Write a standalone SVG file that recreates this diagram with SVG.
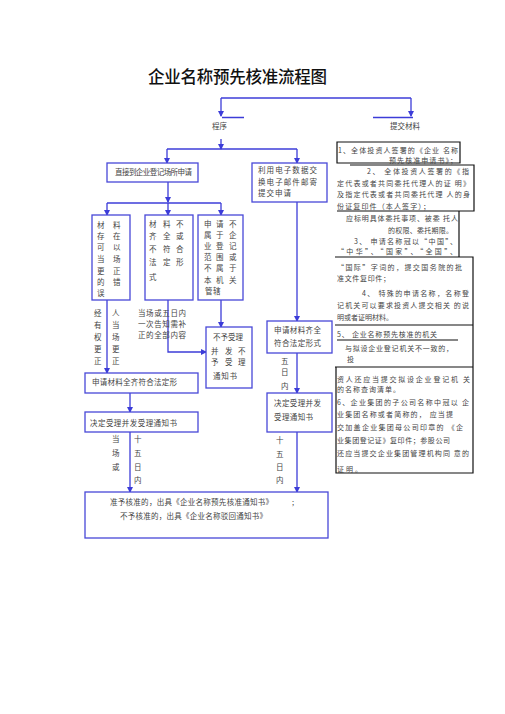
<svg xmlns="http://www.w3.org/2000/svg" width="505" height="714" viewBox="0 0 505 714">
<defs>
<style>
.t{font-family:"Noto Sans CJK SC","Liberation Serif",sans-serif;font-size:7.5px;fill:#444}
.s{font-size:7px}
.title{font-family:"Noto Sans CJK SC","Liberation Sans",sans-serif;font-size:16.5px;font-weight:500;fill:#111}
.box{fill:#fff;stroke:#4848d8;stroke-width:1.3}
.c{fill:none;stroke:#3c3cd8;stroke-width:1.3}
.a{fill:none;stroke:#3c3cd8;stroke-width:1.3;marker-end:url(#ah)}
.pb{fill:none;stroke:#111;stroke-width:1.2}
</style>
<marker id="ah" markerUnits="userSpaceOnUse" markerWidth="6" markerHeight="6" refX="5" refY="3" orient="auto">
<path d="M0,0 L6,3 L0,6 z" fill="#3c3cd8"/>
</marker>
</defs>
<rect width="505" height="714" fill="#fff"/>
<text class="title" x="148" y="83" textLength="179" lengthAdjust="spacing">企业名称预先核准流程图</text>

<g id="connectors">
<path class="c" d="M221,98 H411"/>
<path class="a" d="M221,98 V116"/>
<path class="a" d="M411,98 V116"/>
<path class="c" d="M222,117.5 H244 M373,117.5 H413" stroke-width="0.8"/>
<path class="a" d="M221,139 V149"/>
<path class="c" d="M167,149 H297"/>
<path class="a" d="M167,149 V163"/>
<path class="a" d="M297,149 V163"/>
<path class="a" d="M168,182 V202"/>
<path class="c" d="M107,203 H221"/>
<path class="a" d="M107,203 V215"/>
<path class="a" d="M168,203 V215"/>
<path class="a" d="M221,203 V215"/>
<path class="a" d="M297,202 V321"/>
<path class="a" d="M107,300 V373"/>
<path class="a" d="M168,300 V352 H206"/>
<path class="a" d="M221,300 V327"/>
<path class="a" d="M130,393 V412"/>
<path class="a" d="M130,432 V492"/>
<path class="a" d="M297,353 V393"/>
<path class="a" d="M297,432 V492"/>
</g>

<g id="labels">
<text class="t" x="212" y="129">程序</text>
<text class="t" x="390" y="129">提交材料</text>
<text class="t" x="94 112" y="316">经人</text>
<text class="t" x="94 112" y="328">有当</text>
<text class="t" x="94 112" y="340">权场</text>
<text class="t" x="94 112" y="352">更更</text>
<text class="t" x="94 112" y="364">正正</text>
<text class="t" x="138" y="316" textLength="48" lengthAdjust="spacing">当场或五日内</text>
<text class="t" x="138" y="327" textLength="48" lengthAdjust="spacing">一次告知需补</text>
<text class="t" x="138" y="338" textLength="48" lengthAdjust="spacing">正的全部内容</text>
<text class="t" x="281" y="364">五</text>
<text class="t" x="281" y="375">日</text>
<text class="t" x="281" y="389">内</text>
<text class="t" x="112" y="442">当</text>
<text class="t" x="112" y="456">场</text>
<text class="t" x="112" y="470">或</text>
<text class="t" x="134" y="442">十</text>
<text class="t" x="134" y="456">五</text>
<text class="t" x="134" y="470">日</text>
<text class="t" x="134" y="483">内</text>
<text class="t" x="276" y="443">十</text>
<text class="t" x="276" y="457">五</text>
<text class="t" x="276" y="470">日</text>
<text class="t" x="276" y="483">内</text>
</g>

<g id="n-direct">
<rect class="box" x="107" y="163" width="91" height="19"/>
<text class="t" x="115" y="175" textLength="77" lengthAdjust="spacing">直接到企业登记场所申请</text>
</g>
<g id="n-electronic">
<rect class="box" x="252" y="163" width="75" height="39"/>
<text class="t" x="258" y="173" textLength="59" lengthAdjust="spacing">利用电子数据交</text>
<text class="t" x="258" y="185" textLength="59" lengthAdjust="spacing">换电子邮件邮寄</text>
<text class="t" x="258" y="196" textLength="33" lengthAdjust="spacing">提交申请</text>
</g>
<g id="n-correct">
<rect class="box" x="92" y="215" width="38" height="85"/>
<text class="t" x="97 113" y="228">材料</text>
<text class="t" x="97 113" y="239">存在</text>
<text class="t" x="97 113" y="250">可以</text>
<text class="t" x="97 113" y="262">当场</text>
<text class="t" x="97 113" y="274">更正</text>
<text class="t" x="97 113" y="285">的错</text>
<text class="t" x="97" y="296">误</text>
</g>
<g id="n-incomplete">
<rect class="box" x="145" y="215" width="48" height="85"/>
<text class="t" x="149 163 176" y="227">材料不</text>
<text class="t" x="149 163 176" y="239">齐全或</text>
<text class="t" x="149 163 176" y="252">不符合</text>
<text class="t" x="149 163 176" y="265">法定形</text>
<text class="t" x="149" y="280">式</text>
</g>
<g id="n-outofscope">
<rect class="box" x="198" y="215" width="45" height="85"/>
<text class="t" x="204 216 229" y="227">申请不</text>
<text class="t" x="204 216 229" y="238">属于企</text>
<text class="t" x="204 216 229" y="249">业登记</text>
<text class="t" x="204 216 229" y="260">范围或</text>
<text class="t" x="204 216 229" y="271">不属于</text>
<text class="t" x="204 216 229" y="283">本机关</text>
<text class="t" x="205 213" y="294">管辖</text>
</g>
<g id="n-reject">
<rect class="box" x="206" y="327" width="46" height="61"/>
<text class="t" x="213" y="340" textLength="30" lengthAdjust="spacing">不予受理</text>
<text class="t" x="211 225 238" y="354">并发不</text>
<text class="t" x="211 225 238" y="365">予受理</text>
<text class="t" x="213" y="379" textLength="24" lengthAdjust="spacing">通知书</text>
</g>
<g id="n-complete-left">
<rect class="box" x="85" y="373" width="113" height="20"/>
<text class="t" x="92" y="385" textLength="85" lengthAdjust="spacing">申请材料全齐符合法定形</text>
</g>
<g id="n-accept-left">
<rect class="box" x="85" y="412" width="113" height="20"/>
<text class="t" x="90" y="426" textLength="87" lengthAdjust="spacing">决定受理并发受理通知书</text>
</g>
<g id="n-complete-right">
<rect class="box" x="267" y="321" width="65" height="32"/>
<text class="t" x="274" y="333" textLength="47" lengthAdjust="spacing">申请材料齐全</text>
<text class="t" x="274" y="346" textLength="47" lengthAdjust="spacing">符合法定形式</text>
</g>
<g id="n-accept-right">
<rect class="box" x="267" y="393" width="65" height="39"/>
<text class="t" x="274" y="406" textLength="47" lengthAdjust="spacing">决定受理并发</text>
<text class="t" x="274" y="420" textLength="39" lengthAdjust="spacing">受理通知书</text>
</g>
<g id="n-result">
<rect class="box" x="85" y="492" width="243" height="46"/>
<text class="t" x="110" y="505" textLength="163" lengthAdjust="spacing">准予核准的，出具《企业名称预先核准通知书》</text>
<text class="t" x="292" y="505">;</text>
<text class="t" x="120" y="519" textLength="147" lengthAdjust="spacing">不予核准的，出具《企业名称驳回通知书》</text>
</g>

<g id="materials">
<path class="pb" d="M337,142 H460 V163 H337 Z"/>
<path class="pb" d="M350,165 H474 V211 H337"/>
<path class="pb" d="M459,211 V257"/>
<path class="pb" d="M335,257 H473 V473 H336 V367"/>
<path class="pb" d="M335,325 H473 M337,340 H458 M335,367 H473"/>
<text class="t s" x="338" y="153" textLength="120" lengthAdjust="spacing">1、全体投资人签署的《企业 名称</text>
<text class="t s" x="389" y="162.5" textLength="68" lengthAdjust="spacing">预先核准申请书》；</text>
<text class="t s" x="367" y="174" textLength="102" lengthAdjust="spacing">2、 全体投资人签署的《指</text>
<text class="t s" x="337" y="186" textLength="133" lengthAdjust="spacing">定代表或者共同委托代理人的证 明》</text>
<text class="t s" x="337" y="197" textLength="133" lengthAdjust="spacing">及指定代表或者共同委托代理 人的身</text>
<text class="t s" x="337" y="209" textLength="93" lengthAdjust="spacing">份证复印件（本人签字）；</text>
<text class="t s" x="346" y="221" textLength="112" lengthAdjust="spacing">应标明具体委托事项、被委 托人</text>
<text class="t s" x="388" y="233" textLength="65" lengthAdjust="spacing">的权限、委托期限。</text>
<text class="t s" x="354" y="244" textLength="103" lengthAdjust="spacing">3、 申请名称冠以“中国”、</text>
<text class="t s" x="337" y="254" textLength="120" lengthAdjust="spacing">“中华”、“国家”、“全国”、</text>
<text class="t s" x="337" y="270" textLength="125" lengthAdjust="spacing">“国际”字词的，提交国务院的批</text>
<text class="t s" x="337" y="281" textLength="53" lengthAdjust="spacing">准文件复印件；</text>
<text class="t s" x="362" y="296" textLength="107" lengthAdjust="spacing">4、 特殊的申请名称，名称登</text>
<text class="t s" x="337" y="308" textLength="132" lengthAdjust="spacing">记机关可以要求投资人提交相关 的说</text>
<text class="t s" x="337" y="320" textLength="56" lengthAdjust="spacing">明或者证明材料。</text>
<text class="t s" x="337" y="337" textLength="100" lengthAdjust="spacing">5、 企业名称预先核准的机关</text>
<text class="t s" x="345" y="351" textLength="108" lengthAdjust="spacing">与拟设企业登记机关不一致的，</text>
<text class="t s" x="347" y="362">投</text>
<text class="t s" x="337" y="382" textLength="133" lengthAdjust="spacing">资人还应当提交拟设企业登记机 关</text>
<text class="t s" x="337" y="392" textLength="63" lengthAdjust="spacing">的名称查询清单。</text>
<text class="t s" x="337" y="405" textLength="132" lengthAdjust="spacing">6、企业集团的子公司名称中冠以 企</text>
<text class="t s" x="337" y="417" textLength="116" lengthAdjust="spacing">业集团名称或者简称的， 应当提</text>
<text class="t s" x="337" y="430" textLength="126" lengthAdjust="spacing">交加盖企业集团母公司印章的 《企</text>
<text class="t s" x="337" y="443" textLength="113" lengthAdjust="spacing">业集团登记证》复印件；参股公司</text>
<text class="t s" x="337" y="456" textLength="132" lengthAdjust="spacing">还应当提交企业集团管理机构同 意的</text>
<text class="t s" x="337" y="472" textLength="25" lengthAdjust="spacing">证明。</text>
</g>
</svg>
